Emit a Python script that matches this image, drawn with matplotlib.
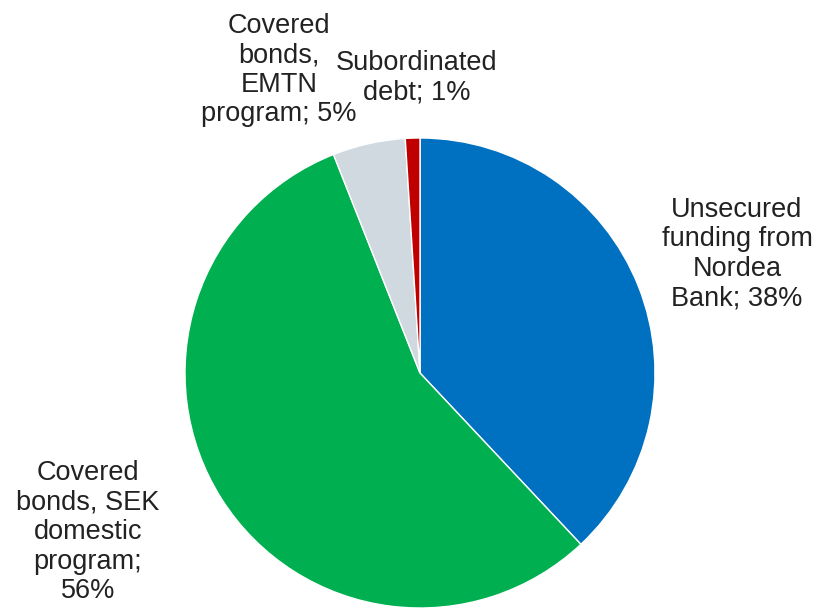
import matplotlib
matplotlib.use("Agg")
import matplotlib.pyplot as plt

labels = ["Unsecured\nfunding from\nNordea\nBank; 38%",
          "Covered\nbonds, SEK\ndomestic\nprogram;\n56%",
          "Covered\nbonds,\nEMTN\nprogram; 5%",
          "Subordinated\ndebt; 1%"]
values = [38, 56, 5, 1]
colors = ["#0070C0", "#00B050", "#D0D9E0", "#C00000"]

W, H = 817, 611
fig = plt.figure(figsize=(W / 100, H / 100), dpi=100)
plt.rcParams['font.family'] = ['Liberation Sans', 'DejaVu Sans']

cx, cy, r = 420, 373, 235
ax = fig.add_axes([(cx - r) / W, (H - cy - r) / H, 2 * r / W, 2 * r / H])
ax.pie(values, colors=colors, startangle=90, counterclock=False,
       wedgeprops=dict(edgecolor="white", linewidth=1))
ax.set_aspect("equal")
ax.set_xlim(-1, 1)
ax.set_ylim(-1, 1)
ax.axis("off")

label_pos = [(737, 254), (88, 532), (279, 70), (417, 78)]
for txt, (x, y) in zip(labels, label_pos):
    fig.text(x / W, 1 - y / H, txt, ha="center", va="center",
             multialignment="center", fontsize=19.5, color="#222222",
             linespacing=1.18)

fig.savefig("out.png", dpi=100)
